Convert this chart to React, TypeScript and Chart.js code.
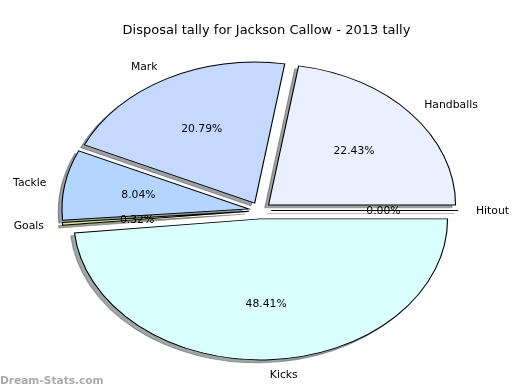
import React, { useEffect, useRef } from "react";
import { Chart, registerables } from "chart.js";

Chart.register(...registerables);

// Slices listed clockwise on screen, starting at 3 o'clock
const categories = ["Kicks", "Goals", "Tackle", "Mark", "Handballs", "Hitout"];
const tallies = [48.41, 0.32, 8.04, 20.79, 22.43, 0];
const sliceColors = ["#d9ffff", "#d3e89e", "#b3d5ff", "#c5d9ff", "#eaf0ff", "#f0f0f0"];
const explodeFractions = [0.06, 0.06, 0.06, 0.06, 0.06, 0.06];
const chartTitle = "Disposal tally for Jackson Callow - 2013 tally";
const watermarkText = "Dream-Stats.com";

const PIE_RADIUS = 141;
const X_STRETCH = 187 / 141;
const LABEL_DISTANCE = 1.1;
const PCT_DISTANCE = 0.6;
const SHADOW_SHIFT = 0.02;
const BORDER_WIDTH = 0.85;
const LABEL_FONT = "10.8px 'DejaVu Sans'";
const TITLE_FONT = "13px 'DejaVu Sans'";
const WATERMARK_FONT = "bold 10.6px 'DejaVu Sans'";

function shadowOf(hex: string) {
  const n = parseInt(hex.slice(1), 16);
  const r = Math.round(((n >> 16) & 255) * 0.3);
  const g = Math.round(((n >> 8) & 255) * 0.3);
  const b = Math.round((n & 255) * 0.3);
  return `rgba(${r},${g},${b},0.5)`;
}

function drawSpoke(ctx: CanvasRenderingContext2D, arc: any, color: string) {
  ctx.save();
  ctx.strokeStyle = color;
  ctx.lineWidth = BORDER_WIDTH;
  ctx.beginPath();
  ctx.moveTo(arc.x, arc.y);
  ctx.lineTo(
    arc.x + Math.cos(arc.startAngle) * arc.outerRadius,
    arc.y + Math.sin(arc.startAngle) * arc.outerRadius
  );
  ctx.stroke();
  ctx.restore();
}

function centerOf(chart: any) {
  const area = chart.chartArea;
  return { cx: (area.left + area.right) / 2, cy: (area.top + area.bottom) / 2 };
}

const ellipsePiePlugin = {
  id: "ellipsePie",
  afterDatasetUpdate(chart: any, args: any) {
    const { cx, cy } = centerOf(chart);
    args.meta.data.forEach((arc: any, i: number) => {
      const mid = (arc.startAngle + arc.endAngle) / 2;
      const d = explodeFractions[i] * arc.outerRadius;
      arc.x = cx + Math.cos(mid) * d;
      arc.y = cy + Math.sin(mid) * d;
    });
  },
  beforeDatasetsDraw(chart: any) {
    const ctx = chart.ctx as CanvasRenderingContext2D;
    const { cx } = centerOf(chart);
    ctx.save();
    ctx.translate(cx, 0);
    ctx.scale(X_STRETCH, 1);
    ctx.translate(-cx, 0);
    const meta = chart.getDatasetMeta(0);
    meta.data.forEach((arc: any, i: number) => {
      const shift = SHADOW_SHIFT * arc.outerRadius;
      const col = shadowOf(sliceColors[i]);
      ctx.save();
      ctx.translate(-shift, shift);
      if (arc.circumference > 0) {
        const ghost = Object.create(arc);
        ghost.options = { ...arc.options, backgroundColor: col, borderColor: col };
        ghost.draw(ctx);
      } else {
        drawSpoke(ctx, arc, col);
      }
      ctx.restore();
    });
  },
  afterDatasetsDraw(chart: any) {
    const ctx = chart.ctx as CanvasRenderingContext2D;
    const meta = chart.getDatasetMeta(0);
    meta.data.forEach((arc: any) => {
      if (!(arc.circumference > 0)) drawSpoke(ctx, arc, "#000000");
    });
    ctx.restore();
  },
  afterDraw(chart: any) {
    const ctx = chart.ctx as CanvasRenderingContext2D;
    const { cx, cy } = centerOf(chart);
    const meta = chart.getDatasetMeta(0);
    const total = tallies.reduce((s, v) => s + v, 0);
    ctx.save();
    ctx.fillStyle = "#000000";
    ctx.textBaseline = "alphabetic";
    ctx.font = LABEL_FONT;
    meta.data.forEach((arc: any, i: number) => {
      const mid = (arc.startAngle + arc.endAngle) / 2;
      const b = arc.outerRadius;
      const a = b * X_STRETCH;
      const e = explodeFractions[i];
      const c = Math.cos(mid);
      const s = Math.sin(mid);
      const lx = cx + a * (e + LABEL_DISTANCE) * c;
      const ly = cy + b * (e + LABEL_DISTANCE) * s;
      ctx.textAlign = c > 0 ? "left" : "right";
      ctx.fillText(categories[i], lx - (c > 0 ? 1 : 0), ly + 3.9);
      const px = cx + a * (e + PCT_DISTANCE) * c;
      const py = cy + b * (e + PCT_DISTANCE) * s;
      ctx.textAlign = "center";
      ctx.fillText(((tallies[i] / total) * 100).toFixed(2) + "%", px, py + 3.9);
    });
    ctx.font = TITLE_FONT;
    ctx.textAlign = "center";
    ctx.fillText(chartTitle, 266.5, 34);
    ctx.font = WATERMARK_FONT;
    ctx.fillStyle = "#aaaaaa";
    ctx.textAlign = "left";
    ctx.fillText(watermarkText, 0, 384);
    ctx.restore();
  },
};

export default function App() {
  const canvasRef = useRef<HTMLCanvasElement | null>(null);

  useEffect(() => {
    const canvas = canvasRef.current;
    if (!canvas) return;
    const chart = new Chart(canvas, {
      type: "pie",
      data: {
        labels: categories,
        datasets: [
          {
            data: tallies,
            backgroundColor: sliceColors,
            borderColor: "#000000",
            borderWidth: BORDER_WIDTH,
            borderJoinStyle: "miter",
            clip: false,
          } as any,
        ],
      },
      options: {
        responsive: false,
        animation: false,
        events: [],
        rotation: 90,
        radius: PIE_RADIUS,
        layout: { padding: { top: 31, left: 0, right: 0, bottom: 0 } },
        plugins: {
          legend: { display: false },
          title: { display: false },
          tooltip: { enabled: false },
        },
      } as any,
      plugins: [ellipsePiePlugin as any],
    });
    return () => chart.destroy();
  }, []);

  return (
    <div style={{ position: "fixed", left: 0, top: 0, width: 520, height: 390, background: "#ffffff" }}>
      <canvas ref={canvasRef} width={520} height={390} style={{ display: "block", width: 520, height: 390 }} />
    </div>
  );
}
